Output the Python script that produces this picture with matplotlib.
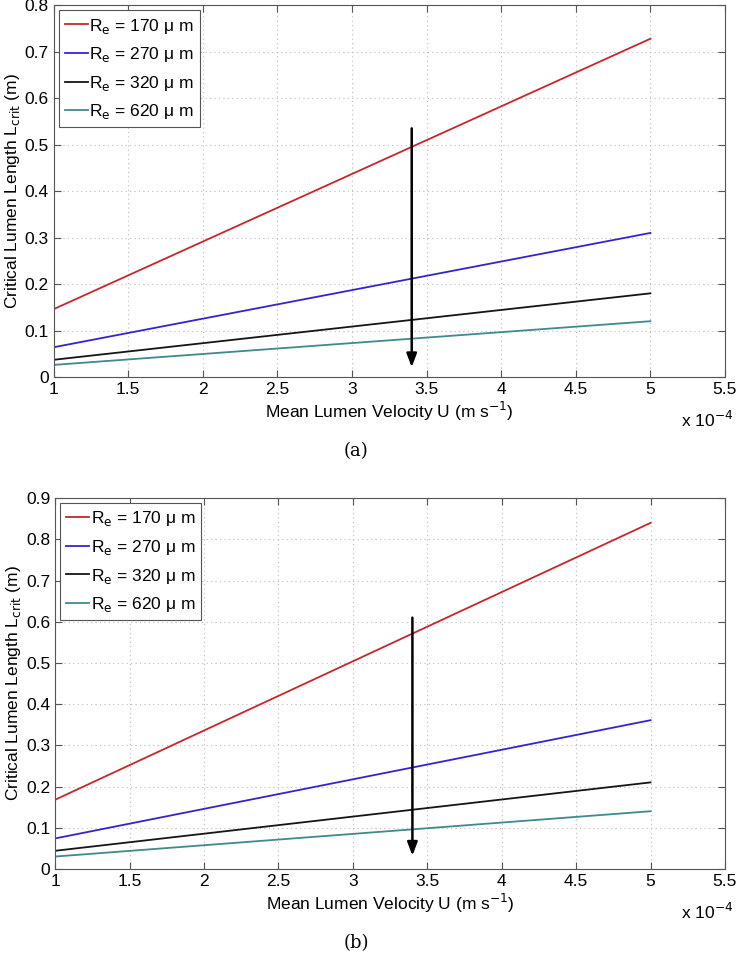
import numpy as np
import matplotlib
matplotlib.use("Agg")
import matplotlib.pyplot as plt

plt.rcParams['font.family'] = ['Liberation Sans', 'DejaVu Sans']

# mean lumen velocity (m/s), end points of each line
U = np.array([1e-4, 5e-4])
radii = ['170', '270', '320', '620']
colors = ['#c8262b', '#3424d0', '#151515', '#3f8a8c']

# critical lumen length (m), panel (a) and (b)
L_a = [[0.146, 0.728], [0.064, 0.310], [0.037, 0.180], [0.026, 0.120]]
L_b = [[0.168, 0.840], [0.074, 0.361], [0.044, 0.210], [0.030, 0.140]]

arrow_x = 3.4
arrow_a = (0.535, 0.021)
arrow_b = (0.610, 0.032)

fig = plt.figure(figsize=(7.36, 9.58), dpi=100)
ax_a = fig.add_axes([0.073, 0.6065, 0.912, 0.388])
ax_b = fig.add_axes([0.075, 0.093, 0.910, 0.387])


def draw(ax, L, ymax, arrow, cap):
    for vals, r, c in zip(L, radii, colors):
        ax.plot(U / 1e-4, vals, color=c, lw=1.3,
                label=r'R$_{\mathrm{e}}$ = ' + r + ' μ m')
    ax.annotate('', xy=(arrow_x, arrow[1]), xytext=(arrow_x, arrow[0]),
                arrowprops=dict(arrowstyle='-|>,head_length=0.8,head_width=0.3',
                                color='black', lw=1.8, shrinkA=0, shrinkB=0))
    ax.set_xlim(1, 5.5)
    ax.set_ylim(0, ymax)
    ax.set_xticks(np.arange(1, 5.51, 0.5))
    ax.set_xticklabels(['1', '1.5', '2', '2.5', '3', '3.5', '4', '4.5', '5', '5.5'])
    yt = np.round(np.arange(0, ymax + 0.001, 0.1), 1)
    ax.set_yticks(yt)
    ax.set_yticklabels(['0'] + ['%.1f' % v for v in yt[1:]])
    ax.tick_params(direction='in', top=True, right=True, labelsize=12.5,
                   length=5, color='#555555')
    for s in ax.spines.values():
        s.set_color('#555555')
    ax.grid(True, linestyle=(0, (1, 3)), color='#bbbbbb', lw=0.8)
    ax.set_xlabel(r'Mean Lumen Velocity U (m s$^{-1}$)', fontsize=12.5, labelpad=2)
    ax.set_ylabel(r'Critical Lumen Length L$_{\mathrm{crit}}$ (m)', fontsize=12.5,
                  labelpad=2)
    ax.text(0.935, -0.115, r'x 10$^{-4}$', transform=ax.transAxes,
            fontsize=12.5, ha='left', va='center')
    ax.text(0.45, -0.20, cap, transform=ax.transAxes, fontsize=13,
            ha='center', va='center', family='DejaVu Serif')
    leg = ax.legend(loc='upper left', fontsize=12.5, handlelength=1.3,
                    handletextpad=0.1, borderpad=0.35, labelspacing=0.55,
                    fancybox=False, edgecolor='#555555', framealpha=1,
                    borderaxespad=0.3)
    leg.get_frame().set_linewidth(0.8)


draw(ax_a, L_a, 0.8, arrow_a, '(a)')
draw(ax_b, L_b, 0.9, arrow_b, '(b)')

fig.savefig('out.png', dpi=100)
